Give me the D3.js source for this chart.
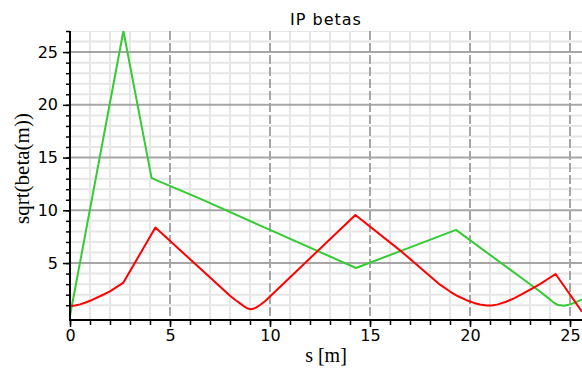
<!DOCTYPE html>
<html>
<head>
<meta charset="utf-8">
<script src="https://cdn.jsdelivr.net/npm/d3@7"></script>
<style>
  html, body { margin: 0; padding: 0; background: #fff; }
  svg { display: block; }
</style>
</head>
<body>
<svg id="chart" width="582" height="369"></svg>
<script>
// sqrt(beta) along s for the two transverse planes around the IP
const sRed    = [0, 0.25, 0.5, 0.75, 1.0, 1.5, 2.0, 2.67, 4.27, 6.5, 8.0, 8.3, 8.5, 8.7, 8.85, 9.0, 9.15, 9.3, 9.5, 9.75, 10.0, 14.27, 16.58, 18.5, 19.0, 19.4, 19.8, 20.2, 20.5, 20.83, 21.1, 21.4, 21.8, 22.2, 22.6, 23.5, 24.28, 25.6];
const betaRed = [0.92, 0.97, 1.08, 1.24, 1.42, 1.85, 2.32, 3.15, 8.36, 4.5, 1.9, 1.45, 1.18, 0.9, 0.72, 0.63, 0.66, 0.78, 1.02, 1.38, 1.83, 9.56, 6.08, 2.95, 2.3, 1.85, 1.5, 1.22, 1.07, 0.97, 0.98, 1.08, 1.33, 1.65, 2.05, 3.0, 3.96, 0.38];

const sGreen    = [0, 2.67, 4.08, 6.5, 10.0, 14.3, 16.58, 19.3, 22.85, 23.5, 23.9, 24.15, 24.4, 24.7, 25.0, 25.3, 25.6];
const betaGreen = [0, 27.0, 13.05, 11.1, 8.14, 4.53, 6.18, 8.14, 3.2, 2.3, 1.7, 1.3, 1.02, 0.95, 1.08, 1.3, 1.55];

const xTickValues = [0, 5, 10, 15, 20, 25];
const yTickValues = [5, 10, 15, 20, 25];
const xMinorValues = d3.range(0, 26, 1);
const yMinorValues = d3.range(1, 28, 1);

const titleText = "IP betas";
const xLabelText = "s [m]";
const yLabelText = "sqrt(beta(m))";

const plot = { left: 70, right: 582, top: 31, bottom: 320 };

const svg = d3.select("#chart");

const x = d3.scaleLinear().domain([0, 25.6]).range([plot.left, plot.right]);
const y = d3.scaleLinear().domain([-0.4, 27]).range([plot.bottom, plot.top]);

svg.append("defs").append("clipPath").attr("id", "plotclip")
  .append("rect")
  .attr("x", plot.left).attr("y", plot.top)
  .attr("width", plot.right - plot.left).attr("height", plot.bottom - plot.top);

const grid = svg.append("g").attr("clip-path", "url(#plotclip)");

// minor grid
grid.selectAll("line.vminor").data(xMinorValues.filter(v => v % 5 !== 0)).join("line")
  .attr("x1", d => x(d)).attr("x2", d => x(d))
  .attr("y1", plot.top).attr("y2", plot.bottom)
  .attr("stroke", "#e6e6e6").attr("stroke-width", 2);
grid.selectAll("line.hminor").data(yMinorValues.filter(v => v % 5 !== 0)).join("line")
  .attr("x1", plot.left).attr("x2", plot.right)
  .attr("y1", d => y(d)).attr("y2", d => y(d))
  .attr("stroke", "#e6e6e6").attr("stroke-width", 2);

// major grid
grid.selectAll("line.hmajor").data(yTickValues).join("line")
  .attr("x1", plot.left).attr("x2", plot.right)
  .attr("y1", d => y(d)).attr("y2", d => y(d))
  .attr("stroke", "#a6a6a6").attr("stroke-width", 2);
grid.selectAll("line.vmajor").data(xTickValues.filter(v => v > 0)).join("line")
  .attr("x1", d => x(d)).attr("x2", d => x(d))
  .attr("y1", plot.top).attr("y2", plot.bottom)
  .attr("stroke", "#a6a6a6").attr("stroke-width", 2)
  .attr("stroke-dasharray", "9,3");

// curves
const line = d3.line().x(d => x(d[0])).y(d => y(d[1]));
const curves = svg.append("g").attr("clip-path", "url(#plotclip)");
curves.append("path")
  .datum(d3.zip(sGreen, betaGreen))
  .attr("d", line).attr("fill", "none")
  .attr("stroke", "#33cc33").attr("stroke-width", 2).attr("stroke-linejoin", "round");
curves.append("path")
  .datum(d3.zip(sRed, betaRed))
  .attr("d", line).attr("fill", "none")
  .attr("stroke", "#ff0000").attr("stroke-width", 2).attr("stroke-linejoin", "round");

// axes
const tickFont = "'DejaVu Sans', sans-serif";

const xMinorAxis = d3.axisBottom(x).tickValues(xMinorValues).tickSize(5).tickFormat("");
const xAxis = d3.axisBottom(x).tickValues(xTickValues).tickSize(7).tickPadding(3).tickFormat(d3.format("d"));
const yMinorAxis = d3.axisLeft(y).tickValues(yMinorValues).tickSize(4).tickFormat("");
const yAxis = d3.axisLeft(y).tickValues(yTickValues).tickSize(7).tickPadding(5).tickFormat(d3.format("d"));

function styleAxis(g) {
  g.select(".domain").remove();
  g.selectAll(".tick line").attr("stroke", "#000").attr("stroke-width", 1.5);
  g.selectAll("text").attr("font-family", tickFont).attr("font-size", 16).attr("fill", "#000");
}

svg.append("g").attr("transform", `translate(0,${plot.bottom})`).call(xMinorAxis).call(styleAxis);
svg.append("g").attr("transform", `translate(0,${plot.bottom})`).call(xAxis).call(styleAxis);
svg.append("g").attr("transform", `translate(${plot.left},0)`).call(yMinorAxis).call(styleAxis);
svg.append("g").attr("transform", `translate(${plot.left},0)`).call(yAxis).call(styleAxis);

// axis lines
svg.append("line")
  .attr("x1", plot.left).attr("x2", plot.right)
  .attr("y1", plot.bottom).attr("y2", plot.bottom)
  .attr("stroke", "#000").attr("stroke-width", 2);
svg.append("line")
  .attr("x1", plot.left).attr("x2", plot.left)
  .attr("y1", plot.top).attr("y2", plot.bottom + 1)
  .attr("stroke", "#000").attr("stroke-width", 2);

// title and axis labels
svg.append("text")
  .attr("x", (plot.left + plot.right) / 2).attr("y", 25)
  .attr("text-anchor", "middle")
  .attr("font-family", tickFont).attr("font-size", 16)
  .attr("letter-spacing", 1)
  .text(titleText);

svg.append("text")
  .attr("x", (plot.left + plot.right) / 2).attr("y", 362)
  .attr("text-anchor", "middle")
  .attr("font-family", "'Liberation Serif', serif").attr("font-size", 20)
  .text(xLabelText);

svg.append("text")
  .attr("transform", `translate(29,${(plot.top + plot.bottom) / 2 - 7}) rotate(-90)`)
  .attr("text-anchor", "middle")
  .attr("font-family", "'Liberation Serif', serif").attr("font-size", 21)
  .text(yLabelText);
</script>
</body>
</html>
